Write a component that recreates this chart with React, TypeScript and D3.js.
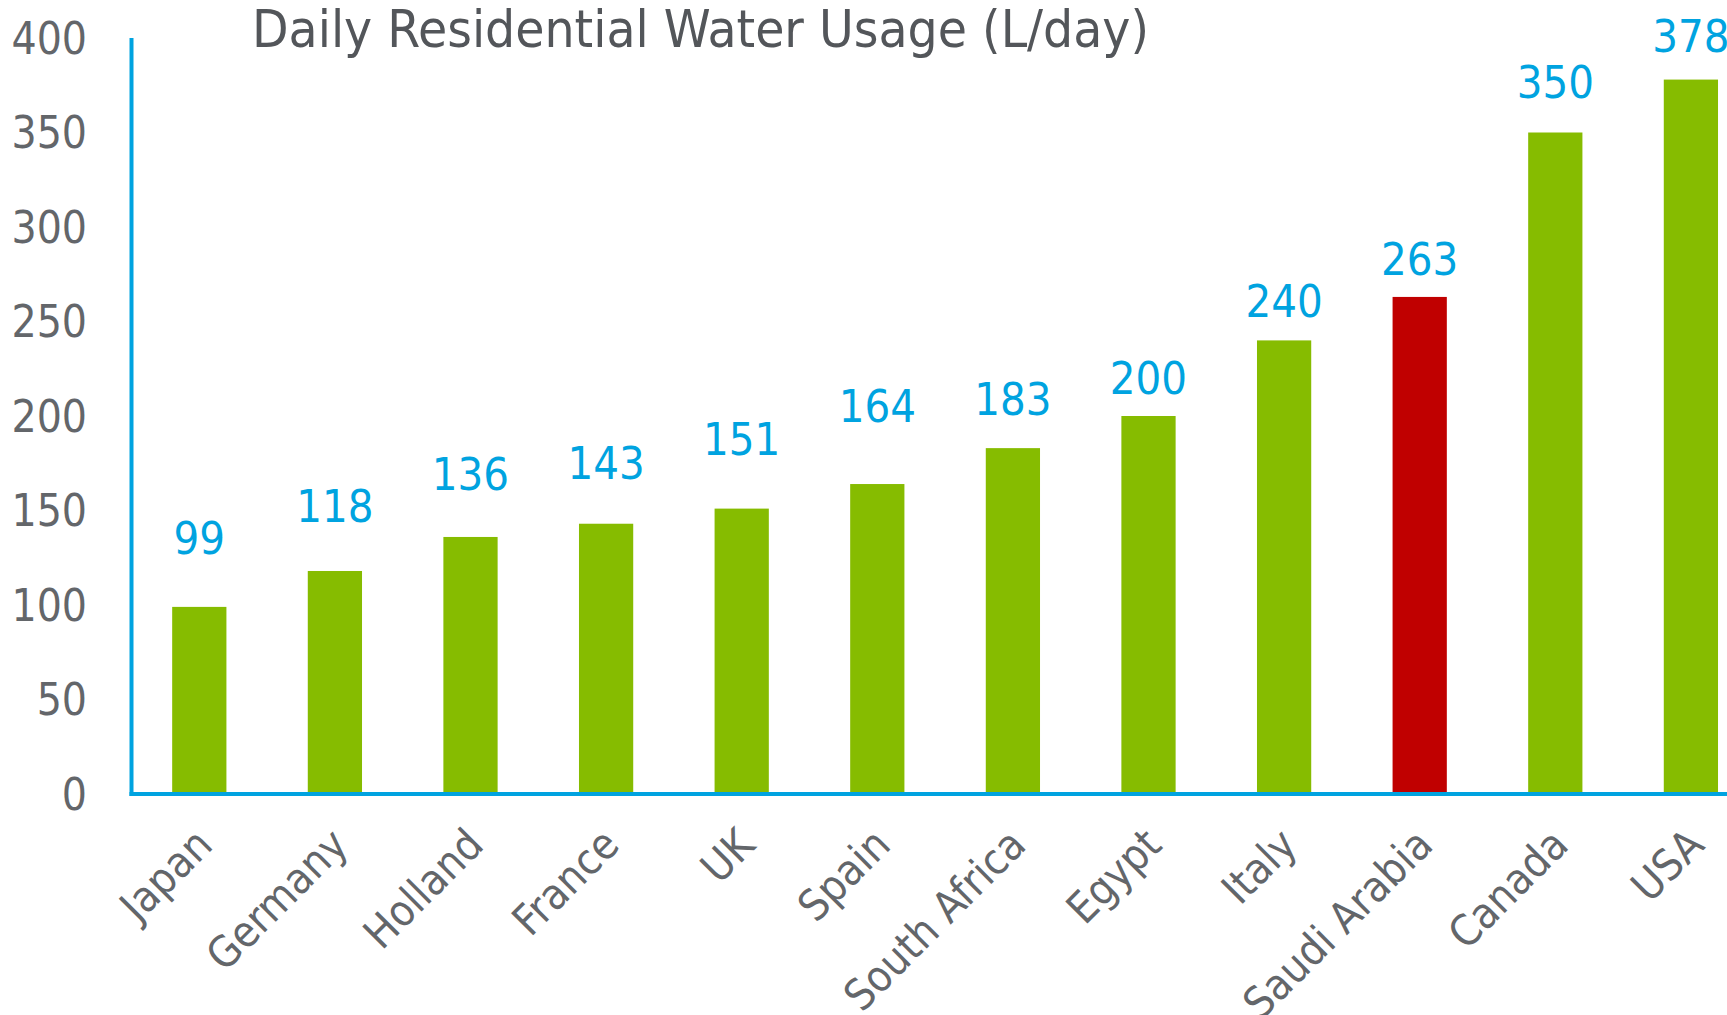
import React, { useEffect, useRef } from 'react';
import * as d3 from 'd3';

const countries = ['Japan', 'Germany', 'Holland', 'France', 'UK', 'Spain', 'South Africa', 'Egypt', 'Italy', 'Saudi Arabia', 'Canada', 'USA'];
const usage = [99, 118, 136, 143, 151, 164, 183, 200, 240, 263, 350, 378];
const highlighted = ['Saudi Arabia'];
const yTicks = [0, 50, 100, 150, 200, 250, 300, 350, 400];
// gap (px) between each bar top and its value label, as placed in the original
const labelGap = [53, 49, 47, 45, 54, 62, 33, 22, 23, 22, 35, 28];

const W = 1727;
const H = 1015;
const FONT = '"DejaVu Sans Condensed", "DejaVu Sans", sans-serif';

export default function App() {
  const svgRef = useRef<SVGSVGElement>(null);

  useEffect(() => {
    if (!svgRef.current) return;
    const svg = d3.select(svgRef.current);
    svg.selectAll('*').remove();

    const x = d3.scaleBand<string>().domain(countries).range([131.5, 1758.7]).paddingInner(0.6).paddingOuter(0.3);
    const y = d3.scaleLinear().domain([0, 400]).range([794, 38]);

    const g = svg.append('g');

    // bars
    g.selectAll('.bar')
      .data(countries)
      .enter()
      .append('rect')
      .attr('x', d => x(d)!)
      .attr('width', x.bandwidth())
      .attr('y', (d, i) => y(usage[i]))
      .attr('height', (d, i) => y(0) - y(usage[i]))
      .attr('fill', d => highlighted.includes(d) ? '#C00000' : '#86BC00');

    // value labels
    g.selectAll('.val')
      .data(countries)
      .enter()
      .append('text')
      .attr('x', d => x(d)! + x.bandwidth() / 2)
      .attr('y', (d, i) => y(usage[i]) - labelGap[i])
      .attr('text-anchor', 'middle')
      .attr('font-family', FONT)
      .attr('font-size', 45)
      .attr('fill', '#00A3E0')
      .text((d, i) => usage[i]);

    // y tick labels
    g.selectAll('.ytick')
      .data(yTicks)
      .enter()
      .append('text')
      .attr('x', 87)
      .attr('y', d => y(d))
      .attr('dy', '0.36em')
      .attr('text-anchor', 'end')
      .attr('font-family', FONT)
      .attr('font-size', 44)
      .attr('fill', '#63666A')
      .text(d => d);

    // category labels, rotated
    g.selectAll('.cat')
      .data(countries)
      .enter()
      .append('text')
      .attr('transform', d => `translate(${x(d)! + x.bandwidth() / 2},832) rotate(-45)`)
      .attr('dy', '0.5em')
      .attr('text-anchor', 'end')
      .attr('font-family', FONT)
      .attr('font-size', 43)
      .attr('fill', '#63666A')
      .text(d => d);

    // axes lines
    g.append('line')
      .attr('x1', 131.5).attr('x2', 131.5).attr('y1', 38).attr('y2', 796)
      .attr('stroke', '#00A3E0').attr('stroke-width', 4);
    g.append('line')
      .attr('x1', 129.5).attr('x2', W).attr('y1', 794).attr('y2', 794)
      .attr('stroke', '#00A3E0').attr('stroke-width', 4);

    // title
    g.append('text')
      .attr('x', 252)
      .attr('y', 47)
      .attr('font-family', FONT)
      .attr('font-size', 52)
      .attr('fill', '#53565A')
      .attr('textLength', 897)
      .attr('lengthAdjust', 'spacingAndGlyphs')
      .text('Daily Residential Water Usage (L/day)');
  }, []);

  return (
    <svg
      ref={svgRef}
      width={W}
      height={H}
      style={{ position: 'absolute', left: 0, top: 0, background: '#fff' }}
    />
  );
}
